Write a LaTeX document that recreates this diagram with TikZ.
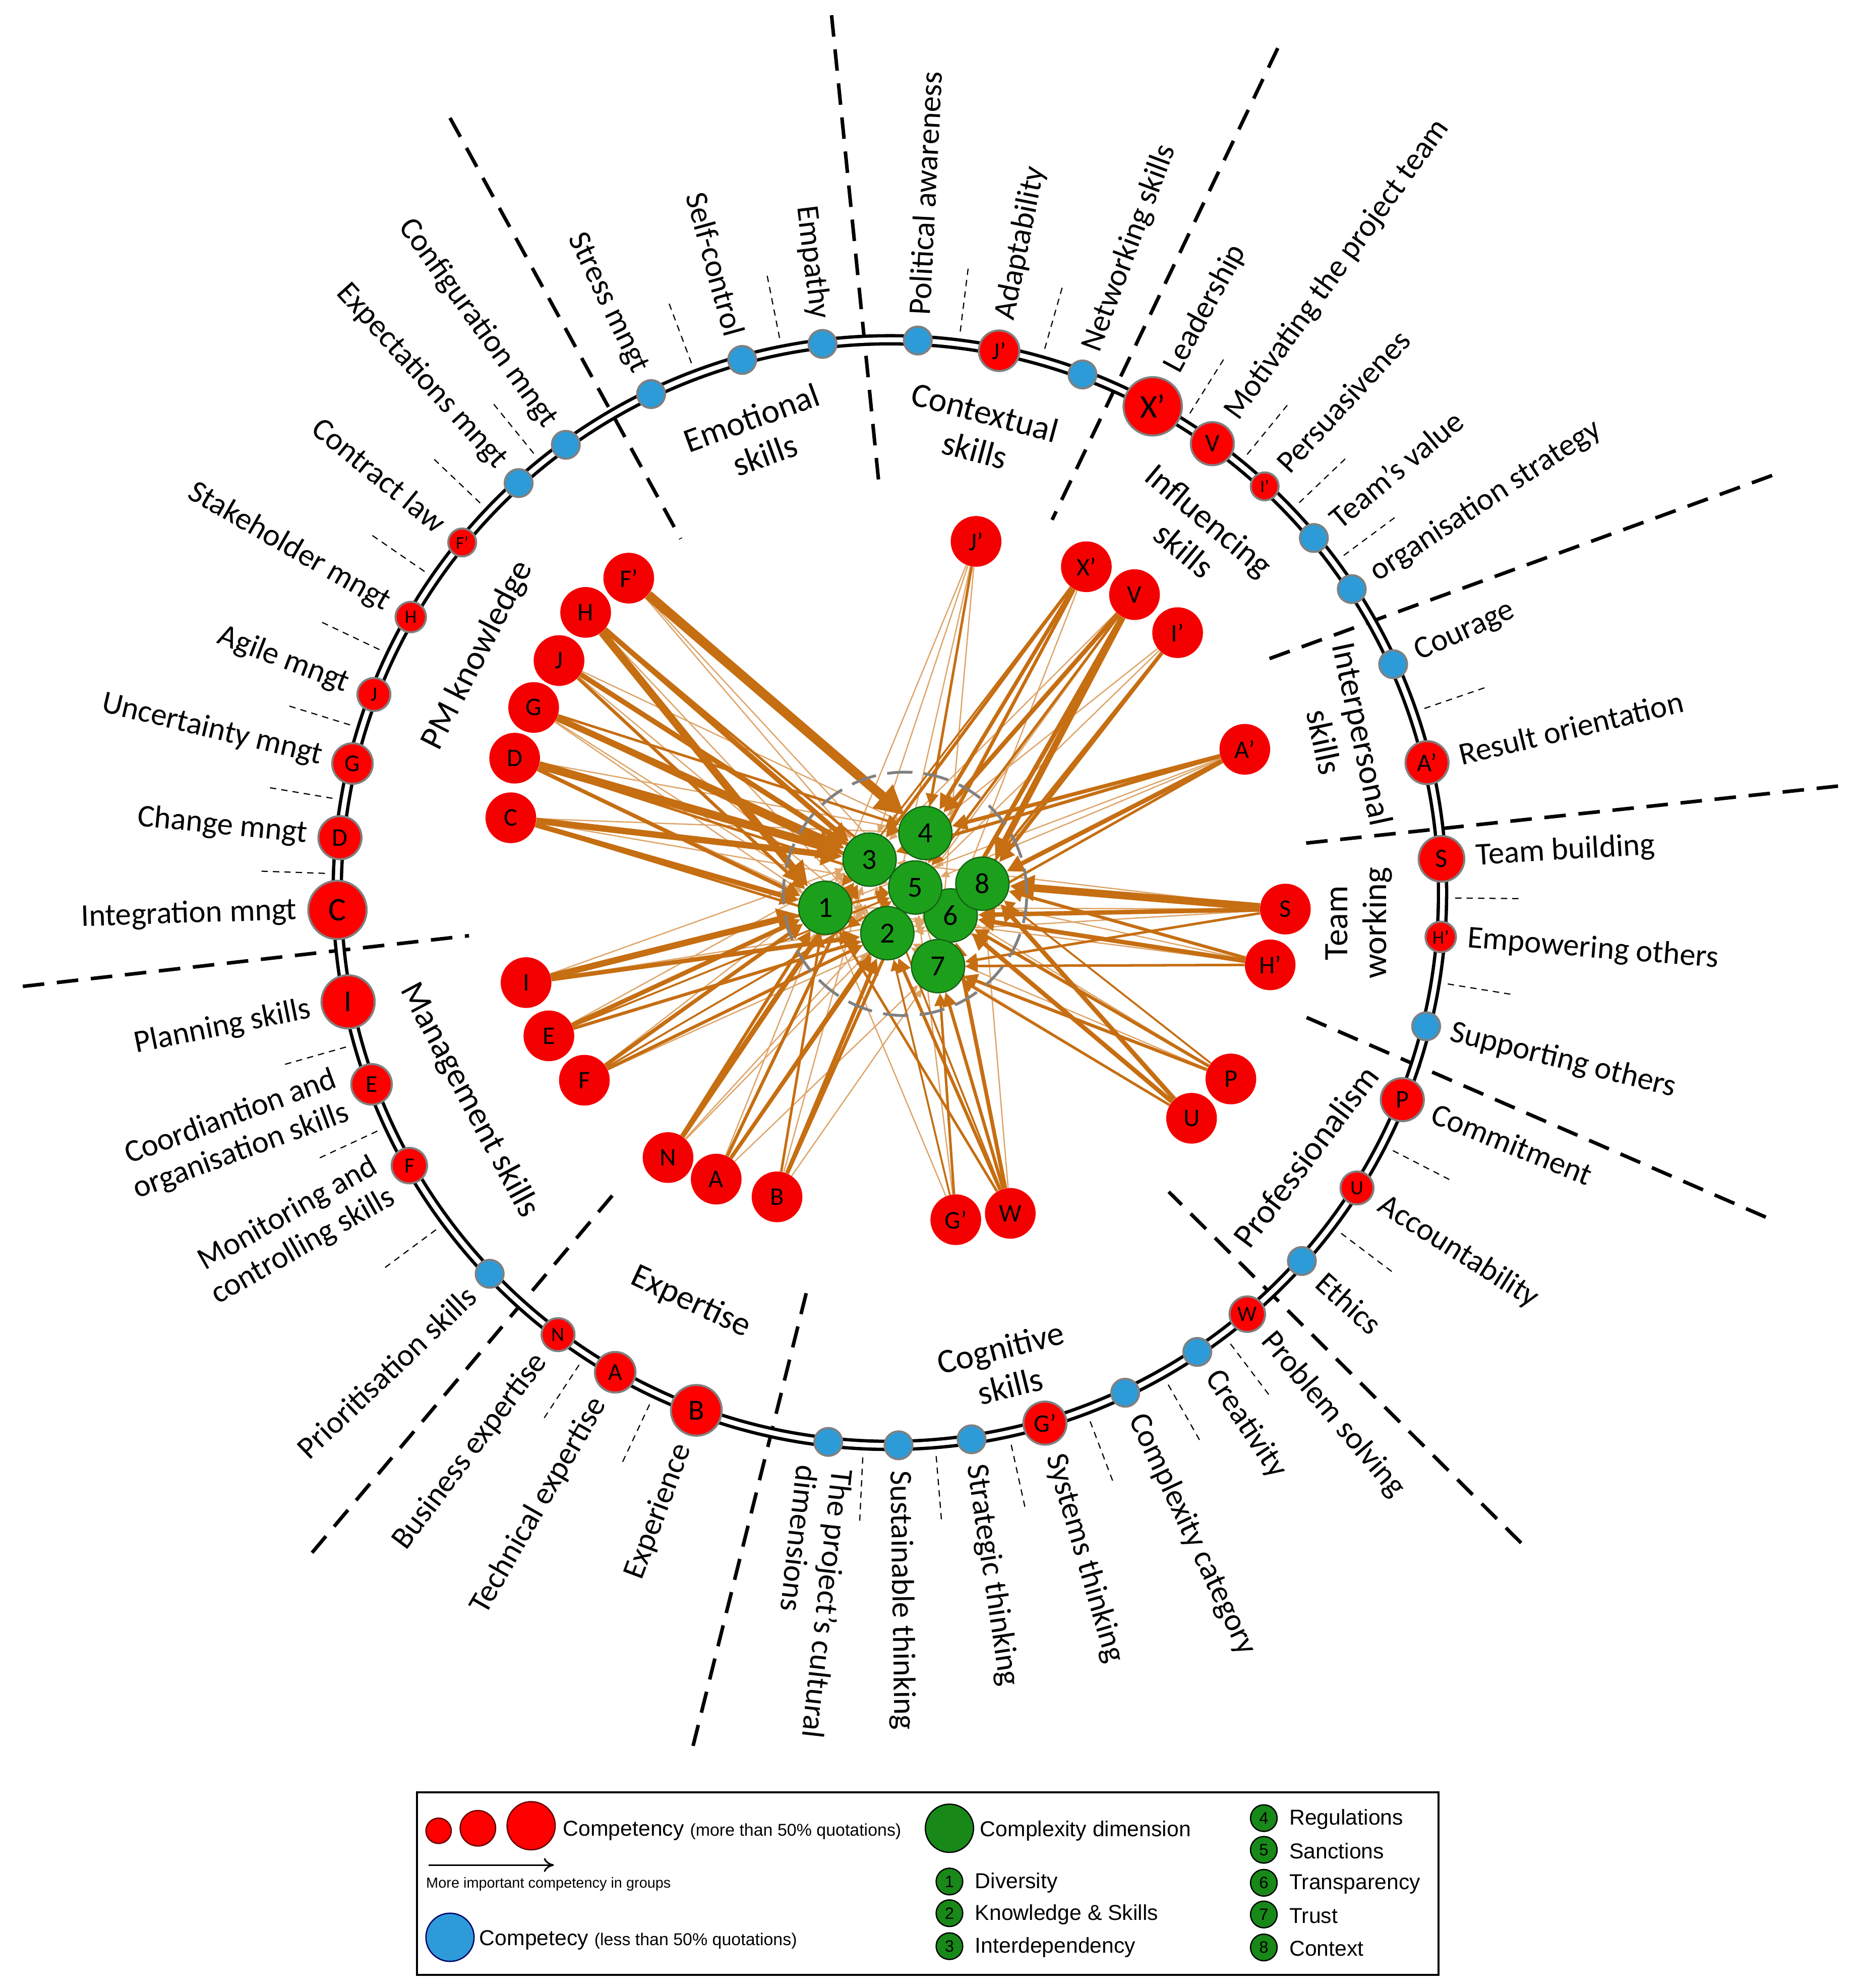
\documentclass[tikz,border=0pt]{standalone}
\usepackage{fontspec}
\setmainfont{Carlito}
\newfontfamily\legfont{Liberation Sans}
\usetikzlibrary{arrows.meta,backgrounds}

\definecolor{cred}{RGB}{255,0,0}
\definecolor{cblue}{RGB}{45,155,215}
\definecolor{cgreen}{RGB}{28,160,28}
\definecolor{cgborder}{RGB}{20,100,20}
\definecolor{corange}{RGB}{198,110,18}
\definecolor{clight}{RGB}{222,165,105}
\definecolor{cborder}{RGB}{128,128,128}

\tikzset{
  ringline/.style={draw=black, line width=2.6pt, double=white, double distance=3.8pt},
  sepline/.style={draw=black, line width=2.8pt, dash pattern=on 17pt off 10pt},
  tickline/.style={draw=black, line width=0.9pt, dash pattern=on 5pt off 4pt},
  outred/.style={circle, fill=cred, draw=cborder, line width=1.6pt, inner sep=0pt},
  outblue/.style={circle, fill=cblue, draw=cborder, line width=1.6pt, inner sep=0pt},
  olabel/.style={inner sep=0pt, font=\fontsize{25}{28}\selectfont},
  glabel/.style={inner sep=0pt, align=center, font=\fontsize{27}{31}\selectfont},
  innred/.style={circle, fill=cred!96!black, inner sep=0pt, minimum size=40pt, font=\fontsize{20}{20}\selectfont},
  greennode/.style={circle, fill=cgreen, draw=cgborder, line width=1pt, inner sep=0pt, minimum size=42pt, font=\fontsize{23}{23}\selectfont},
  heavyedge/.style={draw=corange, -{Triangle[length=5pt 2.4, width=5pt 2.4]}},
  lightedge/.style={draw=clight, line width=1pt, -{Triangle[length=7pt, width=6pt]}},
  legtext/.style={inner sep=0pt, anchor=west, font=\legfont\fontsize{17}{20}\selectfont},
  legred/.style={circle, fill=cred, draw=black!60!red, line width=1pt, inner sep=0pt},
  legblue/.style={circle, fill=cblue, draw=black!60!blue, line width=1pt, inner sep=0pt},
  leggreen/.style={circle, fill=cgreen!85!black, draw=black, line width=1pt, inner sep=0pt, font=\legfont\fontsize{13}{13}\selectfont},
}

\newcommand\OutNode[7]{%
  \pgfmathsetmacro\ofs{1.0*#3+3}%
  \node[#4, minimum size={2*#3pt}, font=\fontsize{\ofs}{\ofs}\selectfont] (o#1) at ({702+436*cos(#2)},{704-436*sin(#2)}) {#5};
  \ifnum#7=0
    \node[olabel, anchor=west, align=left, rotate=#2] (l#1) at ({702+(445+#3)*cos(#2)},{704-(445+#3)*sin(#2)}) {#6};
  \else
    \node[olabel, anchor=east, align=right, rotate=#2+180] (l#1) at ({702+(445+#3)*cos(#2)},{704-(445+#3)*sin(#2)}) {#6};
  \fi
}

\begin{document}
\begin{tikzpicture}[x=1pt,y=-1pt]
\useasboundingbox (0,0) rectangle (1463,1568);

% separators
\coordinate (s1a) at (355,93);   \coordinate (s1b) at (537,425);
\coordinate (s2a) at (656,12);   \coordinate (s2b) at (694,388);
\coordinate (s3a) at (1008,38);  \coordinate (s3b) at (830,410);
\coordinate (s4a) at (1398,375); \coordinate (s4b) at (1000,520);
\coordinate (s5a) at (1450,620); \coordinate (s5b) at (1030,665);
\coordinate (s6a) at (1393,960); \coordinate (s6b) at (1025,800);
\coordinate (s7a) at (1200,1217);\coordinate (s7b) at (922,940);
\coordinate (s8a) at (636,1020); \coordinate (s8b) at (546,1380);
\coordinate (s9a) at (483,943);  \coordinate (s9b) at (240,1232);
\coordinate (s10a) at (18,778);  \coordinate (s10b) at (370,738);
\foreach \k in {1,...,10} \draw[sepline] (s\k a) -- (s\k b);

% small ticks between labels
\foreach \a in {178.05,170.4,162.75,154.55,145.4,136.45,129.05,110.55,101.25,82.85,74.1,57.95,50.8,43.6,36.6,19,-0.55,-9.3,-27.15,-37.05,-52.95,-60.5,-69.25,-77.6,-85.3,-92.75,-115.15,-123.35,-143.4,-155.05,-164.15}
  \draw[tickline] ({702+446*cos(\a)},{704-446*sin(\a)}) -- ({702+496*cos(\a)},{704-496*sin(\a)});

% outer ring
\node[circle, ringline, minimum size=872pt, inner sep=0pt] (ring) at (702,704) {};

% outer nodes and labels
\OutNode{PA}{87.1}{11}{outblue}{}{Political awareness}{0}
\OutNode{Jp}{78.6}{16}{outred}{J’}{Adaptability}{0}
\OutNode{Net}{69.6}{11}{outblue}{}{Networking skills}{0}
\OutNode{Xp}{61.6}{23}{outred}{X’}{Leadership}{0}
\OutNode{V}{54.3}{17}{outred}{V}{Motivating the project team}{0}
\OutNode{Ip}{47.3}{11}{outred}{I’}{Persuasivenes}{0}
\OutNode{TV}{39.9}{11}{outblue}{}{Team’s value}{0}
\OutNode{OS}{33.3}{11}{outblue}{}{organisation strategy}{0}
\OutNode{Cou}{24.4}{11}{outblue}{}{Courage}{0}
\OutNode{Ap}{13.6}{17}{outred}{A’}{Result orientation}{0}
\OutNode{S}{3.5}{18}{outred}{S}{Team building}{0}
\OutNode{Hp}{-4.6}{12}{outred}{H’}{Empowering others}{0}
\OutNode{Sup}{-14}{11}{outblue}{}{Supporting others}{0}
\OutNode{P}{-22}{17}{outred}{P}{Commitment}{0}
\OutNode{U}{-32.3}{13}{outred}{U}{Accountability}{0}
\OutNode{Eth}{-41.8}{11}{outblue}{}{Ethics}{0}
\OutNode{W}{-49.7}{14}{outred}{W}{Problem solving}{0}
\OutNode{Cre}{-56.2}{11}{outblue}{}{Creativity}{0}
\OutNode{CC}{-64.8}{11}{outblue}{}{Complexity category}{0}
\OutNode{Gp}{-73.7}{17}{outred}{G’}{Systems thinking}{0}
\OutNode{ST}{-81.5}{11}{outblue}{}{Strategic thinking}{0}
\OutNode{Sus}{-89.1}{11}{outblue}{}{Sustainable thinking}{0}
\OutNode{PCD}{-96.4}{11}{outblue}{}{The project’s cultural\\dimensions}{0}
\OutNode{B}{-110.5}{20}{outred}{B}{Experience}{1}
\OutNode{A}{-119.8}{16}{outred}{A}{Technical expertise}{1}
\OutNode{N}{-126.9}{13}{outred}{N}{Business expertise}{1}
\OutNode{Pri}{-136.4}{11}{outblue}{}{Prioritisation skills}{1}
\OutNode{F}{-150.4}{14}{outred}{F}{Monitoring and\\controlling skills}{1}
\OutNode{E}{-159.7}{16}{outred}{E}{Coordiantion and\\organisation skills}{1}
\OutNode{I}{-168.6}{21}{outred}{I}{Planning skills}{1}
\OutNode{C}{-178.2}{23}{outred}{C}{Integration mngt}{1}
\OutNode{D}{174.3}{17}{outred}{D}{Change mngt}{1}
\OutNode{G}{166.5}{16}{outred}{G}{Uncertainty mngt}{1}
\OutNode{J}{159}{13}{outred}{J}{Agile mngt}{1}
\OutNode{H}{150.1}{12}{outred}{H}{Stakeholder mngt}{1}
\OutNode{Fp}{140.7}{11}{outred}{F’}{Contract law}{1}
\OutNode{Exp}{132.2}{11}{outblue}{}{Expectations mngt}{1}
\OutNode{Conf}{125.9}{11}{outblue}{}{Configuration mngt}{1}
\OutNode{Str}{115.6}{11}{outblue}{}{Stress mngt}{1}
\OutNode{SC}{105.5}{11}{outblue}{}{Self-control}{1}
\OutNode{Emp}{97}{11}{outblue}{}{Empathy}{1}

% group labels
\node[glabel, rotate=63] (gPM) at (377,517) {PM knowledge};
\node[glabel, rotate=20] (gEmo) at (598,344) {Emotional\\skills};
\node[glabel, rotate=-15] (gCon) at (773,340) {Contextual\\skills};
\node[glabel, rotate=-40] (gInf) at (944,422) {Influencing\\skills};
\node[glabel, rotate=-78] (gInt) at (1060,582) {Interpersonal\\skills};
\node[glabel, rotate=90] (gTeam) at (1072,728) {Team\\working};
\node[glabel, rotate=53] (gPro) at (1030,912) {Professionalism};
\node[glabel, rotate=14] (gCog) at (793,1078) {Cognitive\\skills};
\node[glabel, rotate=-25] (gExpt) at (545,1027) {Expertise};
\node[glabel, rotate=-62] (gMan) at (370,868) {Management skills};

% dashed inner circle
\node[circle, draw=gray, line width=2.2pt, dash pattern=on 20pt off 9pt, minimum size=192pt, inner sep=0pt] (dcirc) at (714,705) {};

% inner red nodes
\node[innred] (nJp) at (770,427) {J’};
\node[innred] (nXp) at (857,447) {X’};
\node[innred] (nV) at (895,469) {V};
\node[innred] (nIp) at (929,499) {I’};
\node[innred] (nAp) at (982,591) {A’};
\node[innred] (nS) at (1014,717) {S};
\node[innred] (nHp) at (1002,761) {H’};
\node[innred] (nP) at (971,851) {P};
\node[innred] (nU) at (940,882) {U};
\node[innred] (nW) at (797,957) {W};
\node[innred] (nGp) at (754,962) {G’};
\node[innred] (nB) at (613,944) {B};
\node[innred] (nA) at (565,930) {A};
\node[innred] (nN) at (527,913) {N};
\node[innred] (nF) at (461,852) {F};
\node[innred] (nE) at (433,817) {E};
\node[innred] (nI) at (415,775) {I};
\node[innred] (nC) at (403,645) {C};
\node[innred] (nD) at (406,598) {D};
\node[innred] (nG) at (421,558) {G};
\node[innred] (nJ) at (441,521) {J};
\node[innred] (nH) at (462,483) {H};
\node[innred] (nFp) at (496,456) {F’};

% green nodes
\node[greennode] (g1) at (651,716) {1};
\node[greennode] (g2) at (700,736) {2};
\node[greennode] (g3) at (686,678) {3};
\node[greennode] (g4) at (730,657) {4};
\node[greennode] (g6) at (750,722) {6};
\node[greennode] (g5) at (722,700) {5};
\node[greennode] (g8) at (775,697) {8};
\node[greennode] (g7) at (740,762) {7};

% edges
\begin{scope}[on background layer]
\fill[white] (0,0) rectangle (1463,1568);
\foreach \s/\t in {Fp/3,Fp/5,H/2,J/4,J/2,G/1,G/2,D/2,D/4,C/5,C/4,I/3,I/6,E/6,E/3,F/3,F/6,N/2,N/5,A/1,A/7,B/3,B/7,Gp/5,Gp/1,Gp/3,W/5,W/8,U/5,U/2,P/2,P/5,Hp/1,Hp/5,S/1,S/3,S/2,Ap/1,Ap/5,Ip/4,Ip/5,V/2,V/3,Xp/2,Xp/6,Jp/2,Jp/1,Jp/7,Jp/3}
  \draw[lightedge] (n\s) -- (g\t);
\foreach \s/\t/\w in {Fp/4/7.5,H/1/6,H/3/4,H/5/2,J/3/4,J/1/2.5,J/5/3,G/3/5,G/5/3,G/4/2,D/3/6.5,D/1/3,D/5/2,C/3/5,C/1/4,C/2/2,I/1/5,I/2/3.5,I/5/2,E/1/3.5,E/2/2.5,E/5/1.5,F/1/3,F/2/2.5,F/5/1.5,N/3/4,N/1/2.5,A/2/3,A/3/2.5,A/5/2,B/2/3,B/5/2.5,B/1/2,Gp/7/2,Gp/2/1.5,W/6/3,W/7/2.5,W/2/2.5,W/1/2,W/3/1.5,U/8/3.5,U/6/3.5,U/7/2,P/6/2.5,P/7/2.5,P/8/1.5,Hp/6/3.5,Hp/8/2.5,Hp/7/2,S/8/6,S/6/3.5,S/7/2,Ap/4/3,Ap/8/3.5,Ap/3/2.5,Ap/6/2,Ip/8/3,Ip/6/2,V/4/3.5,V/8/5,V/6/3.5,V/5/2,Xp/4/3,Xp/5/2.5,Xp/3/2.5,Xp/1/1.5,Jp/4/2,Jp/5/1.5}
  \draw[heavyedge, line width=\w pt] (n\s) -- (g\t);
\end{scope}

% legend
\node[draw=black, line width=1.6pt, minimum width=806pt, minimum height=144pt, inner sep=0pt, anchor=north west] (legbox) at (328,1413) {};
\node[legred, minimum size=20pt] (lr1) at (346,1444) {};
\node[legred, minimum size=28pt] (lr2) at (377,1442) {};
\node[legred, minimum size=38pt] (lr3) at (419,1440) {};
\node[legtext] (lt1) at (444,1444) {Competency {\fontsize{13.5}{16}\selectfont(more than 50\% quotations)}};
\coordinate (la1) at (338,1471);
\coordinate (la2) at (437,1471);
\draw[line width=1.3pt, -{To[length=8pt, width=11pt]}] (la1) -- (la2);
\node[legtext, font=\legfont\fontsize{11.5}{13}\selectfont] (lt2) at (336,1486) {More important competency in groups};
\node[legblue, minimum size=38pt] (lb) at (355,1528) {};
\node[legtext] (lt3) at (378,1530) {Competecy {\fontsize{13.5}{16}\selectfont(less than 50\% quotations)}};
\node[leggreen, minimum size=38pt] (lg) at (749,1442) {};
\node[legtext] (lt4) at (773,1444) {Complexity dimension};
\node[leggreen, minimum size=21pt] (lg1) at (749,1484) {1};
\node[legtext] (lt5) at (769,1485) {Diversity};
\node[leggreen, minimum size=21pt] (lg2) at (749,1509) {2};
\node[legtext] (lt6) at (769,1510) {Knowledge \& Skills};
\node[leggreen, minimum size=21pt] (lg3) at (749,1535) {3};
\node[legtext] (lt7) at (769,1536) {Interdependency};
\node[leggreen, minimum size=21pt] (lg4) at (997,1434) {4};
\node[legtext] (lt8) at (1017,1435) {Regulations};
\node[leggreen, minimum size=21pt] (lg5) at (997,1459) {5};
\node[legtext] (lt9) at (1017,1460) {Sanctions};
\node[leggreen, minimum size=21pt] (lg6) at (997,1485) {6};
\node[legtext] (lt10) at (1017,1486) {Transparency};
\node[leggreen, minimum size=21pt] (lg7) at (997,1510) {7};
\node[legtext] (lt11) at (1017,1511) {Trust};
\node[leggreen, minimum size=21pt] (lg8) at (997,1536) {8};
\node[legtext] (lt12) at (1017,1537) {Context};
\end{tikzpicture}
\end{document}
